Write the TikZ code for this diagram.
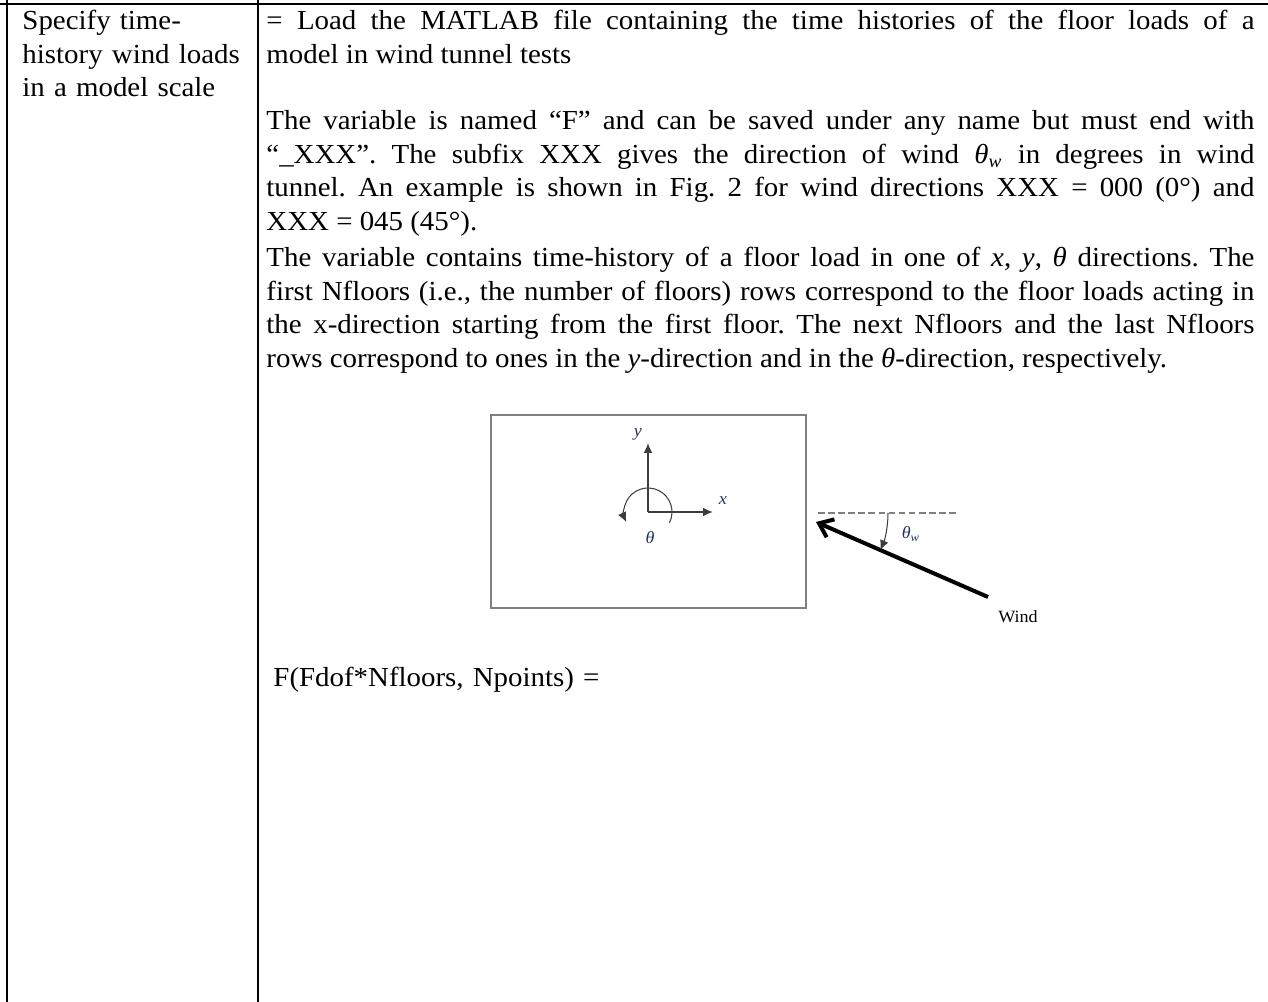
\documentclass[tikz,border=0pt]{standalone}
\usepackage{fontspec}
\setmainfont{Liberation Serif}[FakeStretch=1.05]
\usetikzlibrary{arrows.meta, positioning}

\definecolor{framegray}{RGB}{128,128,128}
\definecolor{axisgray}{RGB}{60,60,60}
\definecolor{labelblue}{RGB}{38,52,92}

\hyphenpenalty=10000
\exhyphenpenalty=10000

\tikzstyle{table_rule} = [line width=0.9pt, draw=black]
\tikzstyle{head_text} = [inner sep=0pt, anchor=base west, text width=104pt, align=left, font=\fontsize{12}{14.56}\selectfont\frenchspacing]
\tikzstyle{body_text} = [inner sep=0pt, anchor=base west, text width=430.8pt, align=justify, font=\fontsize{12}{14.56}\selectfont\frenchspacing]
\tikzstyle{fig_frame} = [draw=framegray, line width=0.5pt]
\tikzstyle{axis_arrow} = [draw=axisgray, line width=0.65pt, -{Latex[length=4.3pt,width=3.8pt]}]
\tikzstyle{rot_arrow} = [draw=axisgray, line width=0.45pt, -{Latex[length=4.3pt,width=3.8pt]}]
\tikzstyle{dash_line} = [draw=framegray, line width=0.5pt, dash pattern=on 2.9pt off 1.5pt]
\tikzstyle{wind_arrow} = [draw=black, line width=1.75pt, -{Straight Barb[length=5.5pt,width=8.5pt]}]
\tikzstyle{fig_label} = [inner sep=0pt, text=labelblue, font=\fontsize{7.5}{9}\selectfont\itshape]
\tikzstyle{wind_text} = [inner sep=0pt, font=\fontsize{7.5}{9}\selectfont]

\begin{document}
\begin{tikzpicture}[x=0.436pt, y=-0.436pt]
		\useasboundingbox (0,0) rectangle (1268,1002);

		% table rules
		\coordinate (rule_left) at (0,4);
		\coordinate (rule_right) at (1268,4);
		\coordinate (edge_top) at (7,0);
		\coordinate (edge_bottom) at (7,1002);
		\coordinate (split_top) at (258,0);
		\coordinate (split_bottom) at (258,1002);
		\draw [table_rule] (rule_left) -- (rule_right);
		\draw [table_rule] (edge_top) -- (edge_bottom);
		\draw [table_rule] (split_top) -- (split_bottom);

		% cell texts
		\node (task) [head_text] at (22,30) {Specify time-\\history wind loads\\in a model scale};
		\node (load) [body_text] at (266,30) {= Load the MATLAB file containing the time histories of the floor loads of a\linebreak model in wind tunnel tests};
		\node (naming) [body_text] at (266,130) {The variable is named “F” and can be saved under any name but must end with\linebreak “\_XXX”. The subfix XXX gives the direction of wind \textit{θ}\textsubscript{\textit{w}} in degrees in wind\linebreak tunnel. An example is shown in Fig. 2 for wind directions XXX = 000 (0°) and\linebreak XXX = 045 (45°).};
		\node (rows) [body_text] at (266,267) {The variable contains time-history of a floor load in one of \textit{x}, \textit{y}, \textit{θ} directions. The\linebreak first Nfloors (i.e., the number of floors) rows correspond to the floor loads acting in\linebreak the x-direction starting from the first floor. The next Nfloors and the last Nfloors\linebreak rows correspond to ones in the \textit{y}-direction and in the \textit{θ}-direction, respectively.};
		\node (size) [head_text, text width=300pt] at (273,687) {F(Fdof*Nfloors, Npoints) =};

		% plan of the model
		\draw [fig_frame] (491,415) rectangle (806,608);
		\coordinate (origin) at (648,512);
		\coordinate (y_tip) at (648,443);
		\coordinate (x_tip) at (713,512);
		\draw [axis_arrow] (origin) -- (y_tip);
		\draw [axis_arrow] (origin) -- (x_tip);
		\draw [rot_arrow] (origin) ++(27:24) arc (27:-205:24);
		\node (y_label) [fig_label] at (638,434) {y};
		\node (x_label) [fig_label] at (723,501) {x};
		\node (rot_label) [fig_label] at (650,538) {θ};

		% wind direction
		\coordinate (wind_tail) at (988,597);
		\coordinate (wind_tip) at (816,522);
		\coordinate (level_start) at (818,513);
		\coordinate (level_end) at (958,513);
		\coordinate (angle_center) at (795,513);
		\draw [wind_arrow] (wind_tail) -- (wind_tip);
		\draw [dash_line] (level_start) -- (level_end);
		\draw [rot_arrow] (angle_center) ++(0:93) arc (0:23.5:93);
		\node (wind_angle) [fig_label] at (911,534) {θ\textsubscript{w}};
		\node (wind_label) [wind_text] at (1018,617) {Wind};
	\end{tikzpicture}
\end{document}
